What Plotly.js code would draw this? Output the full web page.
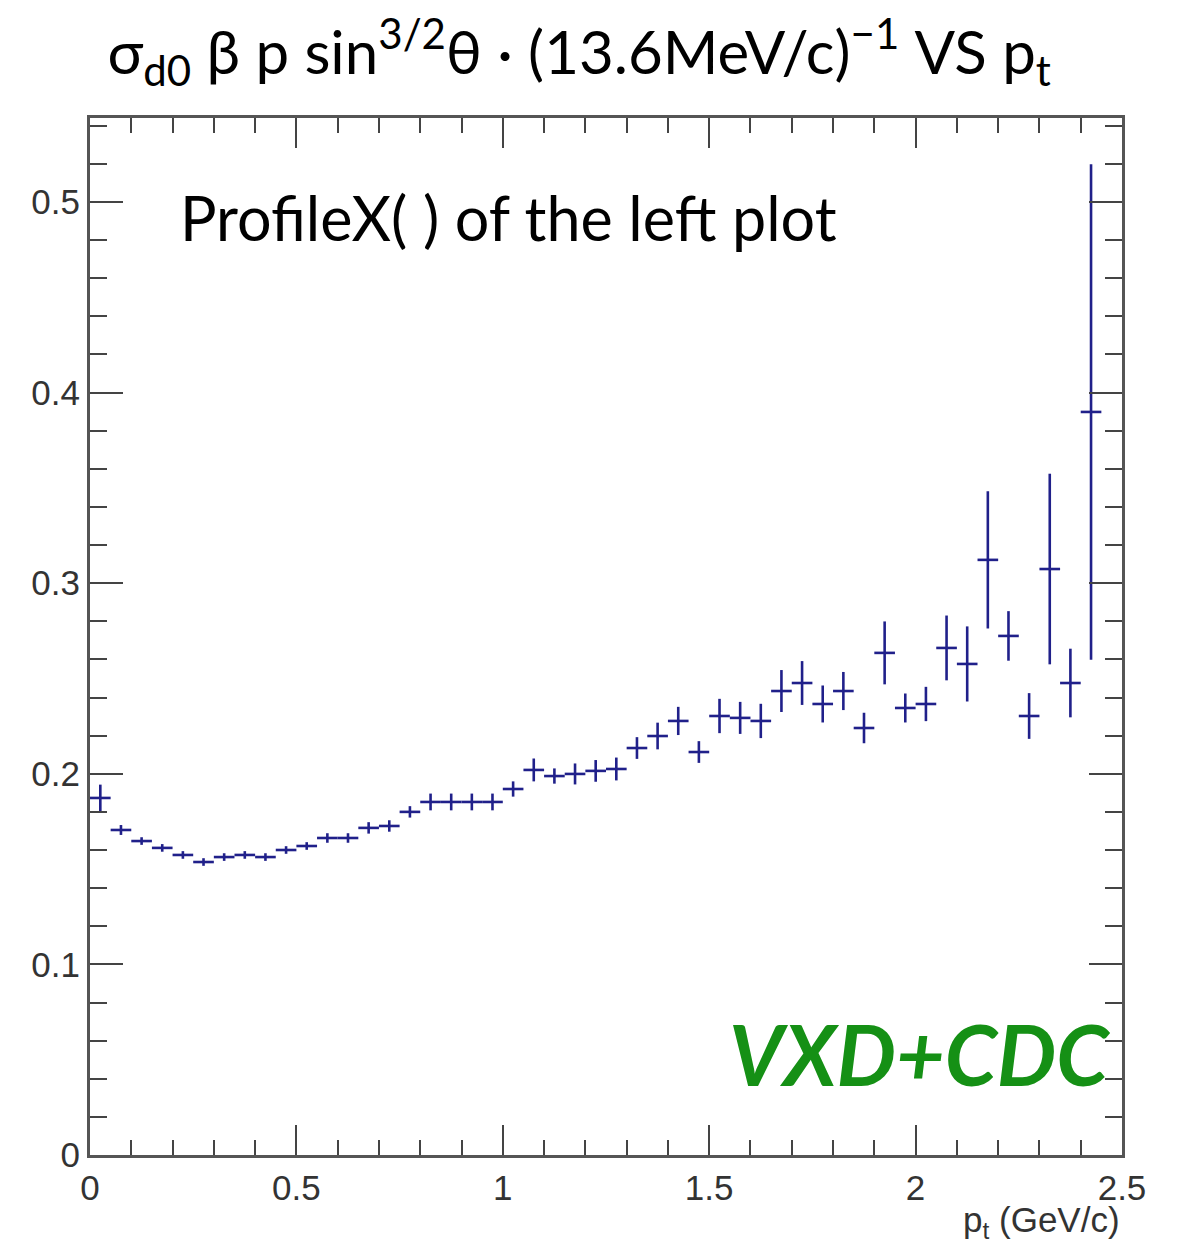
<!DOCTYPE html>
<html>
<head>
<meta charset="utf-8">
<script src="https://cdn.plot.ly/plotly-3.0.1.min.js"></script>
<style>html,body{margin:0;padding:0;background:#fff;}#chart{width:1182px;height:1255px;}</style>
</head>
<body>
<div id="chart"></div>
<script>
// bin centres (pt, GeV/c)
const pt = [0.025,0.075,0.125,0.175,0.225,0.275,0.325,0.375,0.425,0.475,
            0.525,0.575,0.625,0.675,0.725,0.775,0.825,0.875,0.925,0.975,
            1.025,1.075,1.125,1.175,1.225,1.275,1.325,1.375,1.425,1.475,
            1.525,1.575,1.625,1.675,1.725,1.775,1.825,1.875,1.925,1.975,
            2.025,2.075,2.125,2.175,2.225,2.275,2.325,2.375,2.425];
// profile mean
const meanVal = [0.1873,0.1705,0.1647,0.1611,0.1574,0.1537,0.1563,0.1574,0.1563,0.1600,
                 0.1621,0.1663,0.1663,0.1716,0.1726,0.1800,0.1852,0.1852,0.1852,0.1852,
                 0.1920,0.2020,0.1988,0.1999,0.2015,0.2025,0.2135,0.2198,0.2277,0.2114,
                 0.2303,0.2293,0.2277,0.2434,0.2476,0.2366,0.2434,0.2240,0.2634,0.2345,
                 0.2366,0.2660,0.2576,0.3122,0.2723,0.2303,0.3074,0.2476,0.3898];
// error on the mean
const errVal = [0.007,0.0026,0.002,0.002,0.002,0.002,0.002,0.002,0.002,0.002,
                0.002,0.0025,0.0025,0.003,0.003,0.003,0.0044,0.0044,0.0044,0.0044,
                0.004,0.006,0.004,0.0055,0.0057,0.006,0.0057,0.007,0.0074,0.0057,
                0.009,0.0084,0.009,0.011,0.0115,0.0097,0.010,0.008,0.0165,0.0076,
                0.009,0.017,0.0197,0.036,0.013,0.012,0.050,0.018,0.130];
const binHalfWidth = 0.025;
const xTickVals = [0,0.5,1,1.5,2,2.5];
const xTickText = ['0','0.5','1','1.5','2','2.5'];
const yTickVals = [0,0.1,0.2,0.3,0.4,0.5];
const yTickText = ['0','0.1','0.2','0.3','0.4','0.5'];

const col = '#20208a';
const trace = {
  x: pt, y: meanVal, type: 'scatter', mode: 'markers',
  marker: {size: 1, color: col, opacity: 0},
  error_y: {type: 'data', array: errVal, visible: true, color: col, thickness: 2.6, width: 0},
  error_x: {type: 'constant', value: binHalfWidth, visible: true, color: col, thickness: 2.6, width: 0},
  hoverinfo: 'x+y'
};

const axisFont = {family: 'Liberation Sans, Arial, sans-serif', size: 35, color: '#333'};
const layout = {
  width: 1182, height: 1255,
  margin: {l: 90, r: 60, t: 118, b: 100},
  paper_bgcolor: '#fff', plot_bgcolor: '#fff',
  showlegend: false,
  title: {
    text: 'σ<sub>d0</sub> β p sin<sup>3/2</sup>θ · (13.6MeV/c)<sup>−1</sup> VS p<sub>t</sub>',
    font: {family: 'Lato, Open Sans, sans-serif', size: 60, color: '#000'},
    x: 0.49, xanchor: 'center', y: 0.958, yanchor: 'middle'
  },
  xaxis: {
    range: [0, 2.5], showgrid: false, zeroline: false,
    showline: true, linecolor: '#555', linewidth: 3, mirror: 'allticks',
    ticks: 'inside', ticklen: 30, tickwidth: 2, tickcolor: '#444',
    tickvals: xTickVals, ticktext: xTickText, tickfont: axisFont,
    minor: {dtick: 0.1, ticks: 'inside', ticklen: 15, tickwidth: 2, tickcolor: '#444', showgrid: false},
    fixedrange: true
  },
  yaxis: {
    range: [0, 0.544], showgrid: false, zeroline: false,
    showline: true, linecolor: '#555', linewidth: 3, mirror: 'allticks',
    ticks: 'inside', ticklen: 33, tickwidth: 2, tickcolor: '#444',
    tickvals: yTickVals, ticktext: yTickText, tickfont: axisFont,
    minor: {dtick: 0.02, ticks: 'inside', ticklen: 17, tickwidth: 2, tickcolor: '#444', showgrid: false},
    fixedrange: true
  },
  annotations: [
    {text: 'ProfileX( ) of the left plot', xref: 'paper', yref: 'paper',
     x: 0.085, y: 0.904, xanchor: 'left', yanchor: 'middle', showarrow: false,
     font: {family: 'Lato, Open Sans, sans-serif', size: 61, color: '#000'}},
    {text: '<b><i>VXD+CDC</i></b>', xref: 'paper', yref: 'paper',
     x: 0.99, y: 0.098, xanchor: 'right', yanchor: 'middle', showarrow: false,
     font: {family: 'Lato, Open Sans, sans-serif', size: 84, color: '#159015'}},
    {text: 'p<sub>t</sub> (GeV/c)', xref: 'paper', yref: 'paper',
     x: 1.0, y: -0.065, xanchor: 'right', yanchor: 'middle', showarrow: false,
     font: {family: 'Liberation Sans, Arial, sans-serif', size: 35, color: '#333'}}
  ]
};
Plotly.newPlot('chart', [trace], layout, {displayModeBar: false, staticPlot: true});
</script>
</body>
</html>
